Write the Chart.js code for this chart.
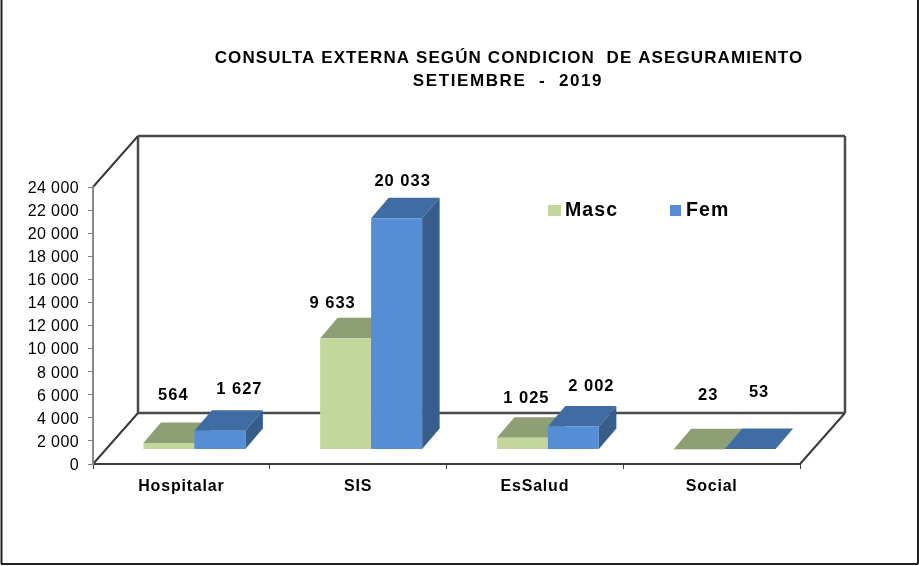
<!DOCTYPE html>
<html><head><meta charset="utf-8">
<style>html,body{margin:0;padding:0;background:#fff}canvas{display:block}</style>
<script src="https://cdn.jsdelivr.net/npm/chart.js@4"></script>
</head><body><canvas id="c" width="919" height="566"></canvas>
<script>
const categories = ['Hospitalar', 'SIS', 'EsSalud', 'Social'];
const seriesNames = ['Masc', 'Fem'];
const mascValues = [564, 9633, 1025, 23];
const femValues = [1627, 20033, 2002, 53];
const titleLines = ['CONSULTA EXTERNA SEGÚN CONDICION  DE ASEGURAMIENTO', 'SETIEMBRE  -  2019'];

const FONT = '"Liberation Sans", Arial, sans-serif';
const fmt = v => String(v).replace(/\B(?=(\d{3})+$)/g, ' ');
const faces = [
  {front:'#C3D69B', top:'#8F9F75', side:'#7F8F62'},
  {front:'#558ED5', top:'#3F6CA3', side:'#375D8A'}
];
// the bars stand on the floor of the 3-D box, forward of the back wall
const barShift = {x:13, y:-14.5};
const barDepth = {x:17.5, y:-20.5};
const boxDepth = {x:45, y:-51};
// hand-placed data labels in the reference: offset from the bar's front top centre
const labelNudge = [
  [[4.5,-47.5],[19.5,-41]],[[-13,-35],[6,-37]],[[4,-39],[18,-40]],[[9,-54],[9,-56]]
];

function poly(ctx, pts, fill){
  ctx.beginPath();
  pts.forEach((p,i)=> i?ctx.lineTo(p[0],p[1]):ctx.moveTo(p[0],p[1]));
  ctx.closePath(); ctx.fillStyle=fill; ctx.fill();
}
function seg(ctx, x1,y1,x2,y2,color,w){
  ctx.beginPath();ctx.moveTo(x1,y1);ctx.lineTo(x2,y2);
  ctx.strokeStyle=color;ctx.lineWidth=w;ctx.stroke();
}
function txt(ctx,s,x,y,font,spacing,align){
  ctx.save();ctx.font=font;ctx.letterSpacing=spacing+'px';ctx.fillStyle='#000';
  ctx.textAlign=align||'center';ctx.textBaseline='middle';ctx.fillText(s,x,y);ctx.restore();
}

const box3d = {
  id:'box3d',
  beforeDraw(chart){
    const ctx=chart.ctx;
    [['x','0.8px',1],['y','0.4px',1.5]].forEach(([id,sp,down])=>{
      const sc=chart.scales[id];
      if(sc._spaced) return;
      const orig=sc.drawLabels;
      sc.drawLabels=function(a){ctx.save();ctx.translate(0,down);ctx.letterSpacing=sp;orig.call(this,a);ctx.restore();};
      sc._spaced=true;
    });
    const {x:xs,y:ys}=chart.scales;
    const L=xs.left,R=xs.right,B=ys.getPixelForValue(0),T=ys.getPixelForValue(24000);
    const dx=boxDepth.x,dy=boxDepth.y,dark='#3a3a3a',mid='#4a4a4a';
    // page frame
    seg(ctx,1.5,0,1.5,564,'#222',2);seg(ctx,1,564,918,564,'#222',2);seg(ctx,918,0,918,564,'#222',2);
    // back wall and floor edges
    seg(ctx,L+dx,T+dy,R+dx,T+dy,mid,2.5);
    seg(ctx,L+dx,T+dy,L+dx,B+dy,mid,2.5);
    seg(ctx,R+dx,T+dy,R+dx,B+dy,mid,2.5);
    seg(ctx,L+dx,B+dy,R+dx,B+dy,mid,2.5);
    seg(ctx,L,T,L+dx,T+dy,dark,2);
    seg(ctx,L,B,L+dx,B+dy,dark,2);
    seg(ctx,R,B,R+dx,B+dy,dark,2);
    // title
    txt(ctx,titleLines[0],509,58,'bold 17px '+FONT,1.1);
    txt(ctx,titleLines[1],508,81,'bold 17px '+FONT,1.6);
    // legend
    const leg=[[548,565],[670,686]];
    seriesNames.forEach((n,i)=>{
      ctx.fillStyle=faces[i].front;ctx.fillRect(leg[i][0],205,i?11:13,11);
      txt(ctx,n,leg[i][1],211,'bold 19.5px '+FONT,1.1,'left');
    });
  },
  // Masc must be painted before Fem, which the default reverse order would not do
  beforeDatasetsDraw(chart){
    const ctx=chart.ctx;
    [0,1].forEach(i=>{
      const f=faces[i],meta=chart.getDatasetMeta(i);
      ctx.save();ctx.translate(barShift.x,barShift.y);
      meta.data.forEach(el=>{
        const p=el.getProps(['x','y','base','width'],true);
        const l=p.x-p.width/2,r=p.x+p.width/2,t=p.y,b=p.base,dx=barDepth.x,dy=barDepth.y;
        poly(ctx,[[l,t],[r,t],[r+dx,t+dy],[l+dx,t+dy]],f.top);
        poly(ctx,[[r,t],[r+dx,t+dy],[r+dx,b+dy],[r,b]],f.side);
      });
      meta.controller.draw();
      ctx.restore();
    });
  },
  beforeDatasetDraw(){return false;},
  afterDatasetsDraw(chart){
    const ctx=chart.ctx;
    [mascValues,femValues].forEach((vals,i)=>{
      const els=chart.getDatasetMeta(i).data;
      vals.forEach((v,k)=>{
        const p=els[k].getProps(['x','y'],true),n=labelNudge[k][i];
        txt(ctx,fmt(v),p.x+barShift.x+n[0],p.y+barShift.y+n[1],'bold 16.5px '+FONT,1);
      });
    });
  }
};

new Chart(document.getElementById('c'),{
  type:'bar',
  data:{labels:categories,datasets:[
    {label:seriesNames[0],data:mascValues,backgroundColor:faces[0].front},
    {label:seriesNames[1],data:femValues,backgroundColor:faces[1].front}
  ]},
  plugins:[box3d],
  options:{
    responsive:false,animation:false,
    layout:{padding:{top:187,right:119,left:0,bottom:0}},
    plugins:{legend:{display:false},title:{display:false},tooltip:{enabled:false}},
    datasets:{bar:{barPercentage:1,categoryPercentage:0.577,borderWidth:0}},
    scales:{
      x:{
        afterFit(s){s.height=102;},
        grid:{drawOnChartArea:false,drawTicks:true,tickLength:5,tickColor:'#404040',offset:true},
        border:{color:'#3a3a3a',width:2},
        ticks:{color:'#000',font:{family:FONT,size:16,weight:'bold'},padding:7,maxRotation:0,autoSkip:false}
      },
      y:{
        min:0,max:24000,
        afterFit(s){s.width=93;},
        grid:{drawOnChartArea:false,drawTicks:true,tickLength:5,tickColor:'#808080'},
        border:{color:'#8a8a8a',width:2},
        ticks:{stepSize:2000,color:'#000',font:{family:FONT,size:16},padding:9,callback:v=>fmt(v)}
      }
    }
  }
});
</script></body></html>
